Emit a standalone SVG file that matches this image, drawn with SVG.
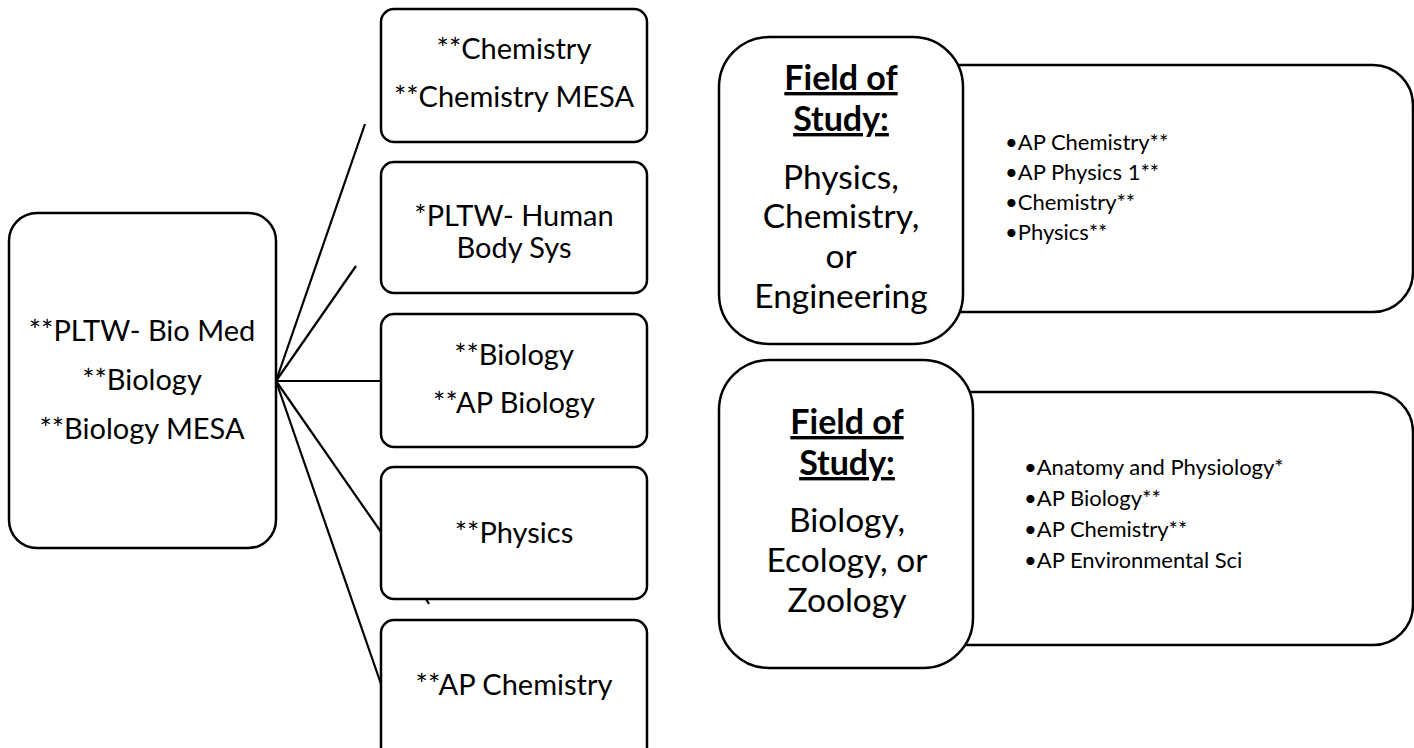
<svg xmlns="http://www.w3.org/2000/svg" width="1414" height="748" viewBox="0 0 1414 748">
<style>
.box{fill:#fff;stroke:#000;stroke-width:2.5}
.ln{stroke:#000;stroke-width:2.2;fill:none}
.t{font-family:Lato,"Open Sans",sans-serif;fill:#000;text-anchor:middle}
.big{font-size:29px}
.fs{font-size:33.5px}
.hd{font-size:34px;font-weight:bold;text-decoration:underline}
.li{font-family:Lato,"Open Sans",sans-serif;font-size:22px;fill:#000}
</style>
<rect width="1414" height="748" fill="#fff"/>
<g id="connectors">
<line class="ln" x1="276" y1="381" x2="365" y2="124"/>
<line class="ln" x1="276" y1="381" x2="356" y2="266"/>
<line class="ln" x1="276" y1="381" x2="381" y2="381"/>
<line class="ln" x1="276" y1="381" x2="381" y2="532"/>
<line class="ln" x1="276" y1="381" x2="381" y2="684"/>
<line class="ln" x1="426" y1="599" x2="429" y2="604"/>
</g>
<g id="root">
<rect class="box" x="9" y="213" width="267" height="335" rx="28"/>
<text class="t big" x="142" y="341">**PLTW- Bio Med</text>
<text class="t big" x="142" y="390">**Biology</text>
<text class="t big" x="142" y="439">**Biology MESA</text>
</g>
<g id="chem">
<rect class="box" x="381" y="9" width="266" height="133" rx="13"/>
<text class="t big" x="514" y="59">**Chemistry</text>
<text class="t big" x="514" y="107">**Chemistry MESA</text>
</g>
<g id="pltw">
<rect class="box" x="381" y="162" width="266" height="131" rx="13"/>
<text class="t big" x="514" y="226">*PLTW- Human</text>
<text class="t big" x="514" y="258">Body Sys</text>
</g>
<g id="bio">
<rect class="box" x="381" y="314" width="266" height="133" rx="13"/>
<text class="t big" x="514" y="365">**Biology</text>
<text class="t big" x="514" y="413">**AP Biology</text>
</g>
<g id="phys">
<rect class="box" x="381" y="467" width="266" height="132" rx="13"/>
<text class="t big" x="514" y="543">**Physics</text>
</g>
<g id="apchem">
<rect class="box" x="381" y="620" width="266" height="145" rx="13"/>
<text class="t big" x="514" y="695">**AP Chemistry</text>
</g>
<g id="list1">
<rect class="box" x="900" y="65" width="513" height="247" rx="40"/>
<text class="li" x="1005" y="150">•AP Chemistry**</text>
<text class="li" x="1005" y="180">•AP Physics 1**</text>
<text class="li" x="1005" y="210">•Chemistry**</text>
<text class="li" x="1005" y="240">•Physics**</text>
</g>
<g id="field1">
<rect class="box" x="719" y="37" width="244" height="307" rx="50"/>
<text class="t hd" x="841" y="90">Field of</text>
<text class="t hd" x="841" y="131">Study:</text>
<text class="t fs" x="841" y="189">Physics,</text>
<text class="t fs" x="841" y="228">Chemistry,</text>
<text class="t fs" x="841" y="268">or</text>
<text class="t fs" x="841" y="308">Engineering</text>
</g>
<g id="list2">
<rect class="box" x="900" y="392" width="513" height="253" rx="40"/>
<text class="li" x="1024" y="475">•Anatomy and Physiology*</text>
<text class="li" x="1024" y="506">•AP Biology**</text>
<text class="li" x="1024" y="537">•AP Chemistry**</text>
<text class="li" x="1024" y="568">•AP Environmental Sci</text>
</g>
<g id="field2">
<rect class="box" x="719" y="360" width="254" height="308" rx="50"/>
<text class="t hd" x="847" y="434">Field of</text>
<text class="t hd" x="847" y="475">Study:</text>
<text class="t fs" x="847" y="532">Biology,</text>
<text class="t fs" x="847" y="572">Ecology, or</text>
<text class="t fs" x="847" y="612">Zoology</text>
</g>
</svg>
